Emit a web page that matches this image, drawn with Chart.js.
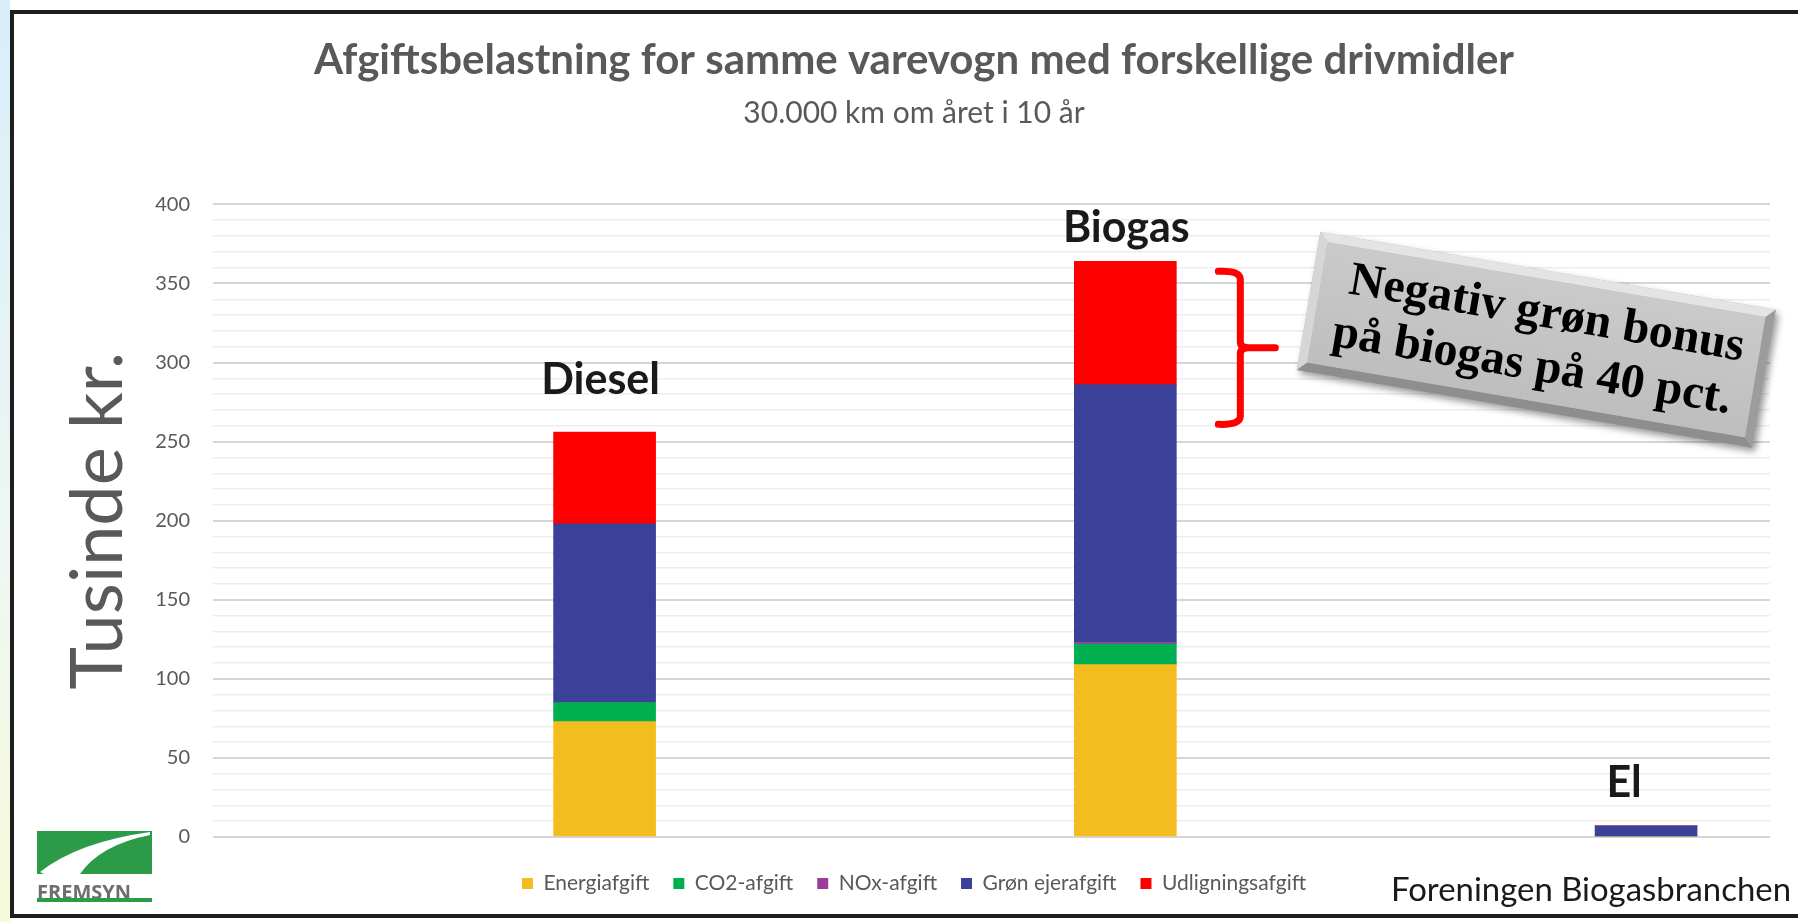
<!DOCTYPE html>
<html lang="da">
<head>
<meta charset="utf-8">
<title>Afgiftsbelastning for samme varevogn</title>
<script src="https://cdn.jsdelivr.net/npm/chart.js@4.4.1/dist/chart.umd.min.js"></script>
<style>
    html, body { margin: 0; padding: 0; background: #fff; }
    body { width: 1798px; height: 922px; position: relative; overflow: hidden; }
    #strip { position: absolute; left: 0; top: 0; width: 10px; height: 922px; background: linear-gradient(#d8eefa, #eef7f2 60%, #f7fbdb); }
    #frame { position: absolute; left: 10px; top: 10px; width: 1820px; height: 908px; border: 4px solid #1e1e1e; box-sizing: border-box; }
    #chart { position: absolute; left: 0; top: 0; }
</style>
</head>
<body>
<div id="strip"></div>
<div id="frame"></div>
<canvas id="chart" width="1798" height="922"></canvas>
<script>
// data (tusinde kr.)
const categories = ['Diesel', 'Biogas', 'El'];
const energiafgift = [73, 109, 0];
const co2Afgift = [12, 13, 0];
const noxAfgift = [0, 1, 0];
const groenEjerafgift = [113, 163, 7];
const udligningsafgift = [58, 78, 0];
const yTicks = [0, 50, 100, 150, 200, 250, 300, 350, 400];

const grey = '#595959';

// søjlerne placeres på en lineær akse (indeks 0, 1, 2)
function toPoints(values) {
    return values.map((v, i) => ({ x: i, y: v }));
}

const datasets = [
    { label: 'Energiafgift', data: toPoints(energiafgift), backgroundColor: '#f4bd1f' },
    { label: 'CO2-afgift', data: toPoints(co2Afgift), backgroundColor: '#00b050' },
    { label: 'NOx-afgift', data: toPoints(noxAfgift), backgroundColor: '#9b3d9b' },
    { label: 'Grøn ejerafgift', data: toPoints(groenEjerafgift), backgroundColor: '#3b4199' },
    { label: 'Udligningsafgift', data: toPoints(udligningsafgift), backgroundColor: '#ff0000' }
];

// tekster, klamme, boks og logo tegnes oven på grafen
const pynt = {
    id: 'pynt',
    afterDraw(chart) {
        const ctx = chart.ctx;
        const x = chart.scales.x;
        const y = chart.scales.y;
        const totals = categories.map((c, i) =>
            energiafgift[i] + co2Afgift[i] + noxAfgift[i] + groenEjerafgift[i] + udligningsafgift[i]);

        // navne over søjlerne
        const labelOffset = [52, 33, 43];
        const labelShift = [-4, 1, -22];
        ctx.save();
        ctx.font = 'bold 43px Lato';
        ctx.fillStyle = '#1a1a1a';
        ctx.textAlign = 'center';
        ctx.textBaseline = 'middle';
        categories.forEach((c, i) => {
            ctx.fillText(c, x.getPixelForValue(i) + labelShift[i], y.getPixelForValue(totals[i]) - labelOffset[i]);
        });
        ctx.restore();

        // rød klamme ved biogas
        const bx = x.getPixelForValue(1) + 115;
        const top = y.getPixelForValue(totals[1]) + 10;
        const bottom = top + 153;
        const mid = (top + bottom) / 2;
        ctx.save();
        ctx.strokeStyle = '#ff0000';
        ctx.lineWidth = 7;
        ctx.lineCap = 'round';
        ctx.lineJoin = 'round';
        ctx.beginPath();
        ctx.moveTo(bx - 22, top);
        ctx.quadraticCurveTo(bx, top - 1, bx, top + 8);
        ctx.lineTo(bx, mid - 6);
        ctx.quadraticCurveTo(bx, mid, bx + 8, mid);
        ctx.lineTo(bx + 35, mid);
        ctx.moveTo(bx + 8, mid);
        ctx.quadraticCurveTo(bx, mid, bx, mid + 6);
        ctx.lineTo(bx, bottom - 8);
        ctx.quadraticCurveTo(bx, bottom + 1, bx - 22, bottom);
        ctx.stroke();
        ctx.restore();

        // grå skrå boks
        const w = 462, h = 140, b = 9;
        ctx.save();
        ctx.translate(bx + 296, mid - 8);
        ctx.rotate(9.7 * Math.PI / 180);
        ctx.shadowColor = 'rgba(0,0,0,0.4)';
        ctx.shadowBlur = 7;
        ctx.shadowOffsetX = 3;
        ctx.shadowOffsetY = 4;
        ctx.fillStyle = '#b8b8b8';
        ctx.fillRect(-w / 2, -h / 2, w, h);
        ctx.shadowColor = 'transparent';
        const edge = (pts, color) => {
            ctx.fillStyle = color;
            ctx.beginPath();
            pts.forEach((p, k) => k ? ctx.lineTo(p[0], p[1]) : ctx.moveTo(p[0], p[1]));
            ctx.closePath();
            ctx.fill();
        };
        const L = -w / 2, R = w / 2, T = -h / 2, B = h / 2;
        edge([[L, T], [R, T], [R - b, T + b], [L + b, T + b]], '#e4e4e4');
        edge([[L, T], [L + b, T + b], [L + b, B - b], [L, B]], '#d6d6d6');
        edge([[L, B], [L + b, B - b], [R - b, B - b], [R, B]], '#8e8e8e');
        edge([[R, T], [R, B], [R - b, B - b], [R - b, T + b]], '#9c9c9c');
        const face = ctx.createLinearGradient(0, T + b, 0, B - b);
        face.addColorStop(0, '#cacaca');
        face.addColorStop(1, '#bebebe');
        ctx.fillStyle = face;
        ctx.fillRect(L + b, T + b, w - 2 * b, h - 2 * b);
        ctx.fillStyle = '#000';
        ctx.font = 'bold 48px "Liberation Serif"';
        ctx.textAlign = 'center';
        ctx.textBaseline = 'alphabetic';
        ctx.fillText('Negativ grøn bonus', 6, -14);
        ctx.fillText('på biogas på 40 pct.', 0, 40);
        ctx.restore();

        // kilde nederst til højre
        ctx.save();
        ctx.font = '33px Lato';
        ctx.fillStyle = '#1a1a1a';
        ctx.textBaseline = 'alphabetic';
        ctx.fillText('Foreningen Biogasbranchen', 1391, 901, 400);
        ctx.restore();

        // FREMSYN-logo nederst til venstre
        ctx.save();
        ctx.fillStyle = '#2b9b48';
        ctx.fillRect(37, 831, 115, 43);
        ctx.fillStyle = '#fff';
        ctx.beginPath();
        ctx.moveTo(40, 872);
        ctx.quadraticCurveTo(78, 842, 150, 832);
        ctx.lineTo(150, 835);
        ctx.quadraticCurveTo(100, 845, 80, 874);
        ctx.lineTo(44, 874);
        ctx.closePath();
        ctx.fill();
        ctx.fillStyle = '#6e6e6e';
        ctx.font = 'bold 20px "Open Sans"';
        ctx.fillText('FREMSYN', 37, 893, 115);
        ctx.fillStyle = '#2b9b48';
        ctx.fillRect(37, 898, 115, 4);
        ctx.restore();
    }
};

const chart = new Chart(document.getElementById('chart'), {
    type: 'bar',
    data: { datasets: datasets },
    options: {
        responsive: false,
        maintainAspectRatio: false,
        animation: false,
        barThickness: 102,
        layout: { padding: { left: 58, right: 28, top: 0, bottom: 18 } },
        scales: {
            x: {
                type: 'linear',
                offset: false,
                min: -0.752,
                max: 2.238,
                stacked: true,
                grid: { display: false },
                border: { display: false },
                ticks: { display: false },
                afterFit: s => { s.height = 12; }
            },
            y: {
                stacked: true,
                min: 0,
                max: 400,
                border: { display: false },
                grid: {
                    drawTicks: false,
                    color: c => yTicks.includes(c.tick.value) ? '#d6d6d6' : '#ededed',
                    lineWidth: c => yTicks.includes(c.tick.value) ? 2 : 1.5
                },
                ticks: {
                    stepSize: 10,
                    autoSkip: false,
                    padding: 23,
                    color: grey,
                    font: { family: 'Lato', size: 20 },
                    callback: v => yTicks.includes(v) ? v : ''
                },
                title: {
                    display: true,
                    text: 'Tusinde kr.',
                    color: grey,
                    font: { family: 'Lato', size: 72, lineHeight: 1 },
                    padding: { top: 5, bottom: 0 }
                },
                afterFit: s => { s.width = 155; }
            }
        },
        plugins: {
            title: {
                display: true,
                text: 'Afgiftsbelastning for samme varevogn med forskellige drivmidler',
                color: grey,
                font: { family: 'Lato', size: 42, weight: 'bold' },
                padding: { top: 35, bottom: 2 }
            },
            subtitle: {
                display: true,
                text: '30.000 km om året i 10 år',
                color: grey,
                font: { family: 'Lato', size: 30 },
                padding: { top: 8, bottom: 73 }
            },
            legend: {
                position: 'bottom',
                labels: {
                    boxWidth: 11,
                    boxHeight: 11,
                    padding: 24,
                    color: grey,
                    font: { family: 'Lato', size: 21 }
                }
            },
            tooltip: { enabled: false }
        }
    },
    plugins: [pynt]
});
</script>
</body>
</html>
